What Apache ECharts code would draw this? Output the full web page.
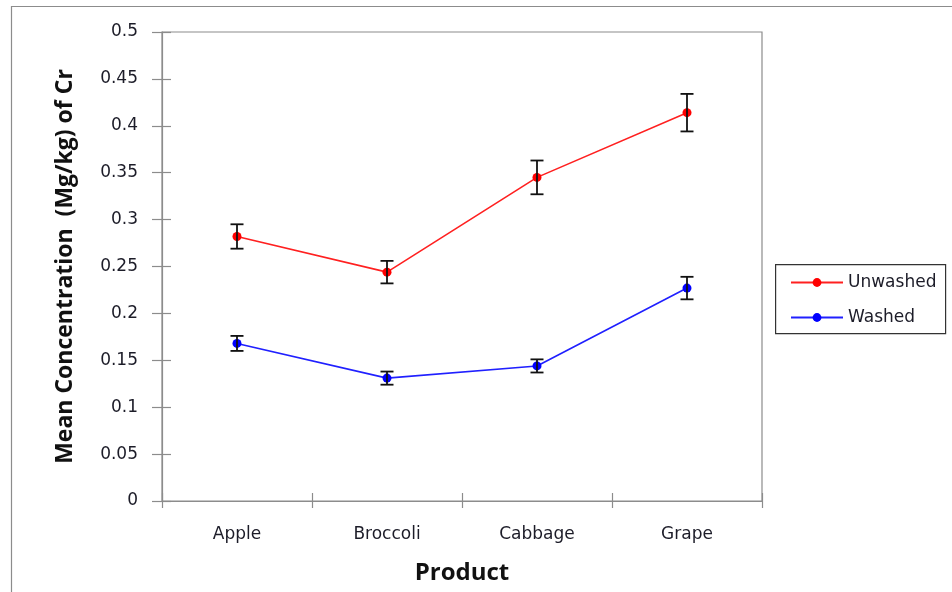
<!DOCTYPE html>
<html>
<head>
<meta charset="utf-8">
<script src="https://cdn.jsdelivr.net/npm/echarts@6/dist/echarts.min.js"></script>
<style>
  html, body { margin: 0; padding: 0; background: #fff; }
  #chart { width: 952px; height: 592px; }
</style>
</head>
<body>
<div id="chart"></div>
<script>
// Mean Cr concentration per product, with error margins
const products = ['Apple', 'Broccoli', 'Cabbage', 'Grape'];
const unwashed = [0.282, 0.244, 0.345, 0.414];
const unwashedErr = [0.013, 0.012, 0.018, 0.020];
const washed = [0.168, 0.131, 0.144, 0.227];
const washedErr = [0.008, 0.007, 0.007, 0.012];
const yTicks = [0, 0.05, 0.1, 0.15, 0.2, 0.25, 0.3, 0.35, 0.4, 0.45, 0.5];

const axisGray = '#8c8c8c';
const textColor = '#1c1c28';
const labelFont = 'DejaVu Sans, Verdana, sans-serif';
const titleFont = 'Open Sans, Noto Sans, sans-serif';

function errorData(values, errs) {
  return values.map((v, i) => [i, v - errs[i], v + errs[i]]);
}

function renderErrorBar(params, api) {
  const x = api.value(0);
  const lo = api.coord([x, api.value(1)]);
  const hi = api.coord([x, api.value(2)]);
  const half = 6.5;
  const style = { stroke: '#111', lineWidth: 1.8 };
  return {
    type: 'group',
    children: [
      { type: 'line', shape: { x1: hi[0], y1: hi[1], x2: lo[0], y2: lo[1] }, style },
      { type: 'line', shape: { x1: hi[0] - half, y1: hi[1], x2: hi[0] + half, y2: hi[1] }, style },
      { type: 'line', shape: { x1: lo[0] - half, y1: lo[1], x2: lo[0] + half, y2: lo[1] }, style }
    ]
  };
}

function tickLabel(v) {
  const t = yTicks.find(k => Math.abs(k - v) < 1e-9);
  return t === undefined ? '' : String(t);
}

const chart = echarts.init(document.getElementById('chart'), null, { renderer: 'canvas' });

chart.setOption({
  animation: false,
  backgroundColor: '#fff',
  graphic: [
    { type: 'rect', left: 9, top: 4, shape: { width: 960, height: 620 },
      style: { fill: 'none', stroke: '#8c8c8c', lineWidth: 1.2 }, silent: true },
    { type: 'rect', left: 775, top: 264, shape: { width: 170, height: 69 },
      style: { fill: '#fff', stroke: '#333', lineWidth: 1.2 }, silent: true, z: 1 }
  ],
  grid: {
    left: 162, top: 32, width: 600, height: 469,
    show: true, borderColor: axisGray, borderWidth: 1.2, backgroundColor: 'transparent'
  },
  legend: {
    orient: 'vertical',
    left: 785, top: 269,
    itemWidth: 52, itemHeight: 11, itemGap: 18,
    z: 5,
    textStyle: { fontFamily: labelFont, fontSize: 17, color: textColor },
    data: ['Unwashed', 'Washed']
  },
  xAxis: [
    {
      type: 'category',
      data: products,
      boundaryGap: true,
      name: 'Product',
      nameLocation: 'middle',
      nameGap: 60,
      nameTextStyle: { fontFamily: titleFont, fontWeight: 'bold', fontSize: 24, color: '#111' },
      axisLine: { lineStyle: { color: axisGray, width: 1.2 } },
      axisTick: { show: true, length: 7, lineStyle: { color: axisGray, width: 1.2 } },
      axisLabel: { fontFamily: labelFont, fontSize: 17, color: textColor, margin: 25 },
      splitLine: { show: false }
    },
    {
      // inward half of the crossing tick marks
      type: 'category',
      data: products,
      position: 'bottom',
      boundaryGap: true,
      axisLine: { show: false },
      axisTick: { show: true, inside: true, length: 8, lineStyle: { color: axisGray, width: 1.2 } },
      axisLabel: { show: false },
      splitLine: { show: false }
    }
  ],
  yAxis: [
    {
      type: 'value',
      min: 0, max: 0.5, interval: 0.05,
      name: 'Mean Concentration  (Mg/kg) of Cr',
      nameLocation: 'middle',
      nameGap: 85,
      nameTextStyle: { fontFamily: titleFont, fontWeight: 'bold', fontSize: 23, color: '#111' },
      axisLine: { show: true, lineStyle: { color: axisGray, width: 1.2 } },
      axisTick: { show: true, length: 10, lineStyle: { color: axisGray, width: 1.2 } },
      axisLabel: { fontFamily: labelFont, fontSize: 17, color: textColor, margin: 24, formatter: tickLabel },
      splitLine: { show: false }
    },
    {
      // inward half of the crossing tick marks
      type: 'value',
      min: 0, max: 0.5, interval: 0.05,
      position: 'left',
      axisLine: { show: false },
      axisTick: { show: true, inside: true, length: 9, lineStyle: { color: axisGray, width: 1.2 } },
      axisLabel: { show: false },
      splitLine: { show: false }
    }
  ],
  series: [
    {
      name: 'Unwashed', type: 'line', data: unwashed,
      symbol: 'circle', symbolSize: 9,
      itemStyle: { color: '#ff0000' },
      lineStyle: { color: '#ff2020', width: 1.6 },
      z: 3
    },
    {
      name: 'Washed', type: 'line', data: washed,
      symbol: 'circle', symbolSize: 9,
      itemStyle: { color: '#0000ff' },
      lineStyle: { color: '#2020ff', width: 1.6 },
      z: 3
    },
    {
      type: 'custom', name: 'UnwashedErr', renderItem: renderErrorBar,
      data: errorData(unwashed, unwashedErr), encode: { x: 0, y: [1, 2] }, z: 4
    },
    {
      type: 'custom', name: 'WashedErr', renderItem: renderErrorBar,
      data: errorData(washed, washedErr), encode: { x: 0, y: [1, 2] }, z: 4
    }
  ]
});
</script>
</body>
</html>
